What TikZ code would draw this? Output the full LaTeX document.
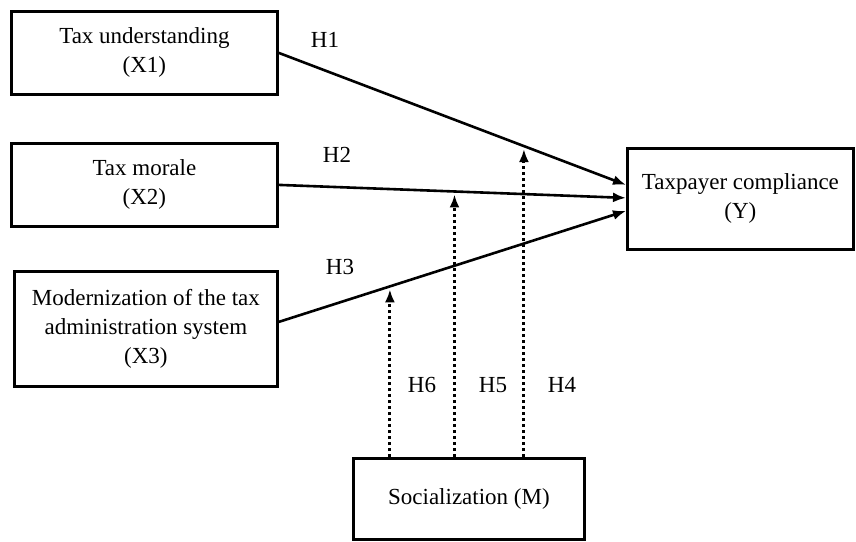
\documentclass[tikz,border=0pt]{standalone}
\usepackage{fontspec}
\setmainfont{Liberation Serif}
\usetikzlibrary{arrows.meta}
\begin{document}
\begin{tikzpicture}[x=1pt,y=-1pt,
  box/.style={draw, line width=2.8pt, inner sep=0pt, align=center, anchor=north west, font=\fontsize{23}{29}\selectfont},
  arr/.style={line width=2.6pt, -{Latex[length=13pt,width=10pt]}},
  darr/.style={line width=3pt, dash pattern=on 3pt off 3pt, -{Latex[length=13pt,width=10pt]}},
  lab/.style={font=\fontsize{23}{27}\selectfont}]
\useasboundingbox (0,0) rectangle (856,541);
\fill[white] (0,0) rectangle (856,541);
\node[box, minimum width=266pt, minimum height=83pt] (x1) at (10,10) {Tax understanding\\(X1)};
\node[box, minimum width=266pt, minimum height=83pt] (x2) at (10,142) {Tax morale\\(X2)};
\node[box, minimum width=263pt, minimum height=115pt] (x3) at (13,270) {Modernization of the tax\\administration system\\(X3)};
\node[box, minimum width=226pt, minimum height=101pt] (y) at (626,147) {Taxpayer compliance\\(Y)};
\node[box, minimum width=231pt, minimum height=81pt] (m) at (352,457) {Socialization (M)};
\draw[arr] (x1.east) -- ([yshift=14pt]y.west) coordinate[pos=0.706] (t4);
\draw[arr] (x2.east) -- ([yshift=1pt]y.west) coordinate[pos=0.506] (t5);
\draw[arr] ([yshift=7pt]x3.east) -- ([yshift=-12pt]y.west) coordinate[pos=0.32] (t6);
\draw[darr, shorten >=3pt] (m.north -| t6) -- (t6);
\draw[darr, shorten >=3pt] (m.north -| t5) -- (t5);
\draw[darr, shorten >=3pt] (m.north -| t4) -- (t4);
\node[lab] (h1) at (325,40) {H1};
\node[lab] (h2) at (337,155) {H2};
\node[lab] (h3) at (340,267) {H3};
\node[lab] (h6) at (422,385) {H6};
\node[lab] (h5) at (493,385) {H5};
\node[lab] (h4) at (562,385) {H4};
\end{tikzpicture}
\end{document}
